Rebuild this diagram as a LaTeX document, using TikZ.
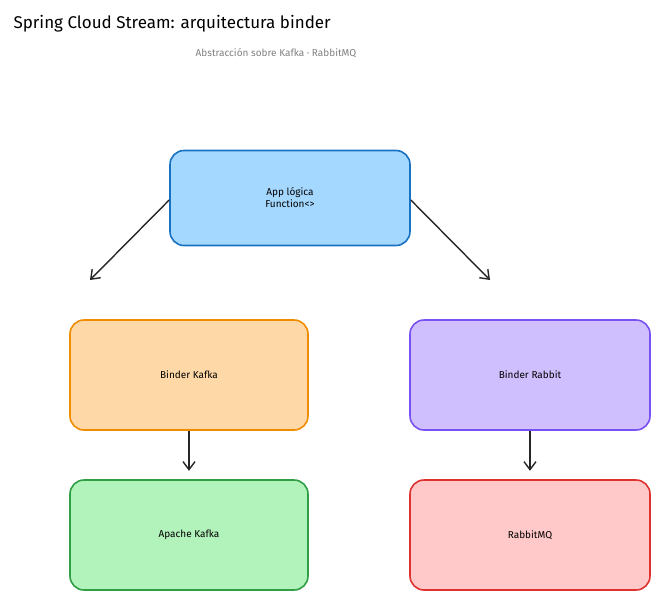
\documentclass[tikz,border=0pt]{standalone}
\usepackage{fontspec}
\setmainfont{Fira Sans}
\usetikzlibrary{arrows.meta}
\definecolor{bfill}{HTML}{A5D8FF}\definecolor{bline}{HTML}{1971C2}
\definecolor{ofill}{HTML}{FFD8A8}\definecolor{oline}{HTML}{F08C00}
\definecolor{vfill}{HTML}{D0BFFF}\definecolor{vline}{HTML}{7950F2}
\definecolor{gfill}{HTML}{B2F2BB}\definecolor{gline}{HTML}{2F9E44}
\definecolor{rfill}{HTML}{FFC9C9}\definecolor{rline}{HTML}{E03131}
\begin{document}
\begin{tikzpicture}[x=1pt,y=-1pt,
  box/.style={draw,line width=1.6pt,rounded corners=14pt,minimum width=240pt,minimum height=95pt,font=\fontsize{10}{12}\selectfont,align=center},
  arr/.style={line width=1.4pt,-{Straight Barb[length=8pt,width=12pt]},color=black!85}]
\useasboundingbox (0,0) rectangle (660,600);
\node[anchor=west,font=\fontsize{17}{20}\selectfont] (t) at (10,24) {Spring Cloud Stream: arquitectura binder};
\node[font=\fontsize{10}{12}\selectfont,text=gray] (s) at (276,53) {Abstracción sobre Kafka · RabbitMQ};
\node[box,fill=bfill,draw=bline] (app) at (290,198) {App lógica\\Function<>};
\node[box,fill=ofill,draw=oline,minimum width=238pt,minimum height=110pt] (bk) at (189,375) {Binder Kafka};
\node[box,fill=vfill,draw=vline,minimum height=110pt] (br) at (530,375) {Binder Rabbit};
\node[box,fill=gfill,draw=gline,minimum width=238pt,minimum height=110pt] (ak) at (189,535) {Apache Kafka};
\node[box,fill=rfill,draw=rline,minimum height=110pt] (rm) at (530,535) {RabbitMQ};
\coordinate (l) at (90,280);
\coordinate (r) at (490,280);
\draw[arr] (app.west) ++(0,2) -- (l);
\draw[arr] (app.east) ++(0,2) -- (r);
\draw[arr] (bk.south) -- ++(0,40);
\draw[arr] (br.south) -- ++(0,40);
\end{tikzpicture}
\end{document}
